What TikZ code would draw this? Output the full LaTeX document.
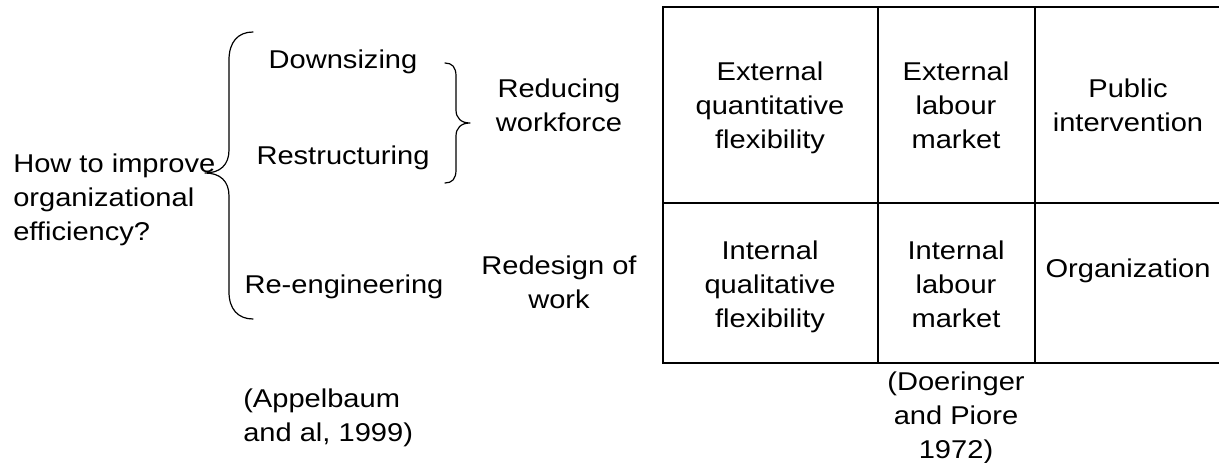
\documentclass[tikz,border=0pt]{standalone}
\usepackage{fontspec}
\setmainfont{Liberation Sans}[FakeStretch=1.13]
\begin{document}
\begin{tikzpicture}[x=0.75pt,y=-0.75pt,
  txt/.style={inner sep=0pt,align=center,anchor=base,font=\fontsize{19.3pt}{25.5pt}\selectfont},
  ltxt/.style={txt,align=left,anchor=base west},
  brace/.style={line width=0.9pt,line cap=round,line join=round},
  grid/.style={line width=1.5pt}]
\useasboundingbox (0,0) rectangle (1219,463);
% left part (anchors at baseline of last line)
\node[ltxt] (q) at (13,240) {How to improve\\organizational\\efficiency?};
\node[txt] (down) at (343,69) {Downsizing};
\node[txt] (restr) at (343,165) {Restructuring};
\node[txt] (reeng) at (344,293) {Re-engineering};
\node[txt] (reduce) at (559,132) {Reducing\\workforce};
\node[txt] (redesign) at (559,308) {Redesign of\\work};
\node[ltxt] (appel) at (243,441) {(Appelbaum\\and al, 1999)};
% big brace
\coordinate (bt) at (253,32);
\coordinate (btip) at (205,173);
\coordinate (bb) at (253,319);
\draw[brace] (bt) .. controls (238,32) and (229,42) .. (229,60) -- (229,150)
  .. controls (229,165) and (220,173) .. (btip)
  .. controls (220,173) and (229,181) .. (229,196) -- (229,292)
  .. controls (229,309) and (238,319) .. (bb);
% small brace
\coordinate (st) at (445,63);
\coordinate (stip) at (470,123);
\coordinate (sb) at (445,183);
\draw[brace] (st) .. controls (452,63) and (456,67) .. (456,76) -- (456,110)
  .. controls (456,118) and (461,123) .. (stip)
  .. controls (461,123) and (456,128) .. (456,136) -- (456,170)
  .. controls (456,179) and (452,183) .. (sb);
% table grid
\coordinate (t1) at (663,7);
\coordinate (t2) at (1225,7);
\coordinate (m1) at (663,203);
\coordinate (m2) at (1225,203);
\coordinate (b1) at (663,363);
\coordinate (b2) at (1225,363);
\coordinate (v1t) at (878,7);
\coordinate (v1b) at (878,363);
\coordinate (v2t) at (1035,7);
\coordinate (v2b) at (1035,363);
\draw[grid] (t2) -- (t1) -- (b1) -- (b2);
\draw[grid] (m1) -- (m2);
\draw[grid] (v1t) -- (v1b);
\draw[grid] (v2t) -- (v2b);
% table texts
\node[txt] (eqf) at (770,149) {External\\quantitative\\flexibility};
\node[txt] (elm) at (956,149) {External\\labour\\market};
\node[txt] (pub) at (1128,132) {Public\\intervention};
\node[txt] (iqf) at (770,327) {Internal\\qualitative\\flexibility};
\node[txt] (ilm) at (956,327) {Internal\\labour\\market};
\node[txt] (org) at (1128,277) {Organization};
\node[txt] (doer) at (956,458) {(Doeringer\\and Piore\\1972)};
\end{tikzpicture}
\end{document}
